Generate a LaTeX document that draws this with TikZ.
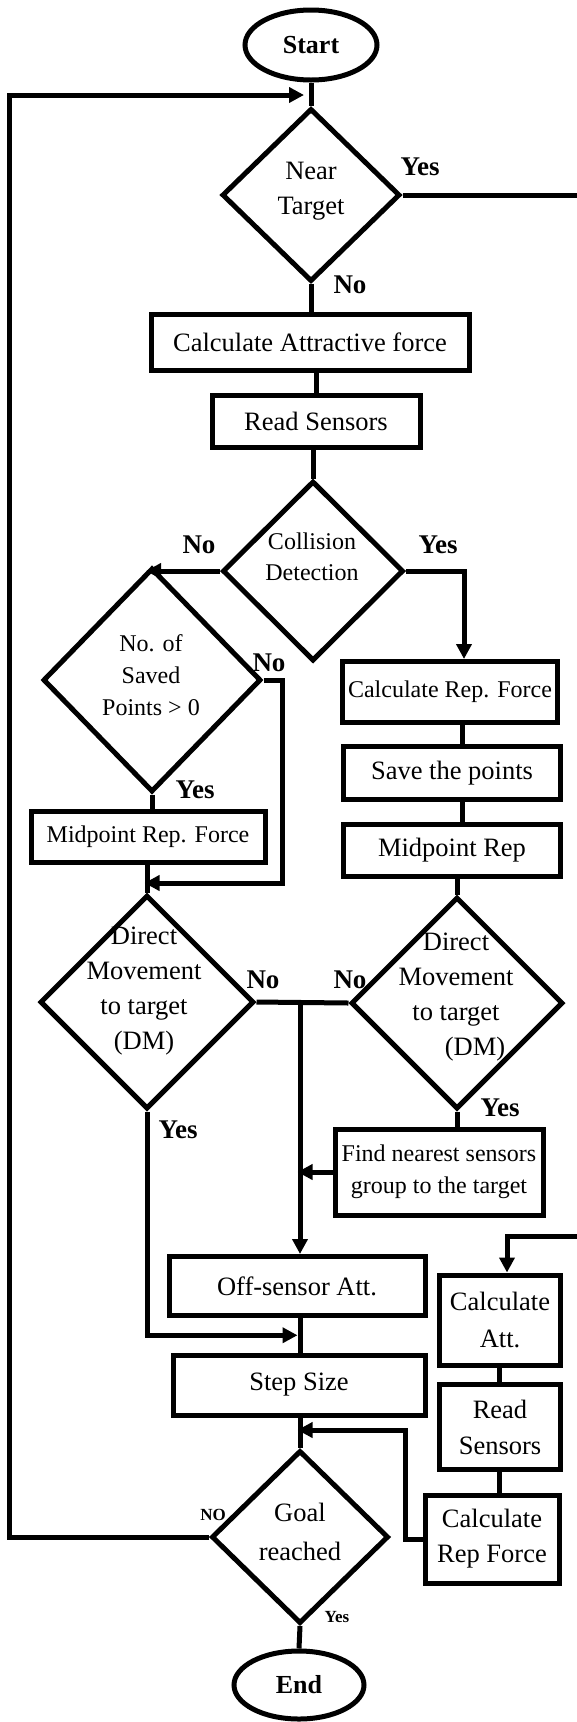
\documentclass[tikz,border=0pt]{standalone}
\usepackage{fontspec}
\setmainfont{Liberation Serif}
\usetikzlibrary{shapes.geometric,arrows.meta,calc}

\begin{document}
\begin{tikzpicture}[x=1pt,y=-1pt,
  line width=5pt,
  box/.style={draw, rectangle, inner sep=0pt, align=center, font=\fontsize{26.5}{35}\selectfont},
  dia/.style={draw, diamond, inner sep=0pt},
  term/.style={draw, ellipse, inner sep=0pt, font=\bfseries\fontsize{26}{30}\selectfont},
  dtxt/.style={align=center, inner sep=0pt, font=\fontsize{26.5}{35}\selectfont},
  lbl/.style={inner sep=0pt, font=\bfseries\fontsize{27}{30}\selectfont},
  slbl/.style={inner sep=0pt, font=\bfseries\fontsize{17}{20}\selectfont},
  arr/.style={-{Triangle[length=15pt,width=15pt]}},
]
\useasboundingbox (0,0) rectangle (577,1722);
\clip (0,0) rectangle (577,1722);

% ---- main column ----
\node[term, minimum width=132pt, minimum height=70pt] (start) at (311,45) {Start};
\node[dia, minimum width=178pt, minimum height=173pt] (near) at (311,195) {};
\node[dtxt] (nearT) at (311,191) {Near\\Target};
\node[box, minimum width=318pt, minimum height=56pt] (calcA) at (310,342) {Calculate Attractive force};
\node[box, minimum width=208pt, minimum height=52pt] (readS) at (316,421) {Read Sensors};
\node[dia, minimum width=181pt, minimum height=180pt] (coll) at (313,571) {};
\node[dtxt, font=\fontsize{24}{31}\selectfont] (collT) at (312,557) {Collision\\Detection};

% ---- left branch ----
\node[dia, minimum width=218pt, minimum height=224pt] (saved) at (152,680) {};
\node[dtxt, font=\fontsize{24}{32}\selectfont] (savedT) at (151,675) {No. of\\Saved\\Points > 0};
\node[box, font=\fontsize{24}{30}\selectfont, minimum width=234pt, minimum height=51pt] (midF) at (148,837) {Midpoint Rep. Force};
\node[dia, minimum width=214pt, minimum height=214pt] (dmL) at (147,1002) {};
\node[dtxt] (dmLT) at (144,991) {Direct\\Movement\\to target\\(DM)};

% ---- right branch ----
\node[box, font=\fontsize{24}{30}\selectfont, minimum width=215pt, minimum height=61pt] (calcR) at (450,692) {Calculate Rep. Force};
\node[box, minimum width=217pt, minimum height=53pt] (save) at (452,773) {Save the points};
\node[box, minimum width=217pt, minimum height=52pt] (midR) at (452,850) {Midpoint Rep};
\node[dia, minimum width=212pt, minimum height=212pt] (dmR) at (457,1003) {};
\node[dtxt] (dmRT) at (456,997) {Direct\\Movement\\to target\\\hspace*{38pt}(DM)};
\node[box, font=\fontsize{24}{32}\selectfont, minimum width=208pt, minimum height=86pt] (find) at (439,1172) {Find nearest sensors\\group to the target};

% ---- lower part ----
\node[box, minimum width=256pt, minimum height=59pt] (off) at (297,1286) {Off-sensor Att.};
\node[box, minimum width=252pt, minimum height=60pt] (step) at (299,1385) {Step Size};
\node[dia, minimum width=177pt, minimum height=173pt] (goal) at (300,1537) {};
\node[dtxt, font=\fontsize{26.5}{39}\selectfont] (goalT) at (300,1532) {Goal\\reached};
\node[term, minimum width=130pt, minimum height=68pt] (end) at (299,1685) {End};

\node[box, font=\fontsize{26.5}{37}\selectfont, minimum width=121pt, minimum height=90pt] (catt) at (500,1320) {Calculate\\Att.};
\node[box, font=\fontsize{26.5}{36}\selectfont, minimum width=121pt, minimum height=85pt] (rsens) at (500,1427) {Read\\Sensors};
\node[box, font=\fontsize{26.5}{35}\selectfont, minimum width=134pt, minimum height=88pt] (crep) at (492,1539) {Calculate\\Rep Force};

% ---- helper coordinates ----
\coordinate (loopTop) at (311,95);
\coordinate (loopL) at (9,95);
\coordinate (rTop) at (592,195);
\coordinate (rBot) at (592,1236);
\coordinate (cattIn) at ($(catt.north)+(7,0)$);
\coordinate (calcRin) at ($(calcR.north)+(14,0)$);
\coordinate (colR) at (462,0);
\coordinate (colM) at (300,0);
\coordinate (colRR) at (499,0);
\coordinate (svc) at (282,883);
\coordinate (fb) at (405,1430);
\coordinate (mid1) at ($(off.south)!0.5!(step.north)$);

% ---- connectors ----
\draw (start.south) -- (near.north);
\draw[arr, shorten >=7pt] (goal.west) -| (loopL) -- (loopTop);
\draw[arr] (near.east) -- (rTop) -- (rBot) -| (cattIn);
\draw (near.south) -- (near.south |- calcA.north);
\draw (readS.north) -- (readS.north |- calcA.south);
\draw (coll.north) -- (coll.north |- readS.south);
\draw[arr, shorten >=-6pt] (coll.west) -- (coll.west -| saved.north);
\draw[arr] (coll.east) -| (calcRin);
\draw (colR |- calcR.south) -- (colR |- save.north);
\draw (colR |- save.south) -- (colR |- midR.north);
\draw (dmR.north) -- (dmR.north |- midR.south);

\draw (saved.south) -- (saved.south |- midF.north);
\draw (dmL.north) -- (dmL.north |- midF.south);
\draw[arr, shorten >=-2.5pt] (saved.east) -| (svc) -- (svc -| dmL.north);

\draw (dmL.east) -- (dmR.west);
\draw[arr] (colM |- dmL.east) -- (colM |- off.north);
\draw[arr, shorten >=-2.5pt] (find.west) -- (find.west -| colM);
\draw (dmR.south) -- (dmR.south |- find.north);
\draw[arr, shorten >=2.5pt] (dmL.south) |- (colM |- mid1);
\draw (colM |- off.south) -- (colM |- step.north);
\draw (goal.north |- step.south) -- (goal.north);
\draw[arr, shorten >=-2.5pt] (crep.west) -| (fb) -- (fb -| goal.north);
\draw (colRR |- catt.south) -- (colRR |- rsens.north);
\draw (colRR |- rsens.south) -- (colRR |- crep.north);
\draw (goal.south) -- (end.north);

% ---- branch labels ----
\node[lbl] (yes1) at (420,167) {Yes};
\node[lbl] (no1) at (350,285) {No};
\node[lbl] (no2) at (199,545) {No};
\node[lbl] (yes2) at (438,545) {Yes};
\node[lbl] (no3) at (269,663) {No};
\node[lbl] (yes3) at (195,790) {Yes};
\node[lbl] (no4) at (263,980) {No};
\node[lbl] (no5) at (350,980) {No};
\node[lbl] (yes4) at (500,1108) {Yes};
\node[lbl] (yes5) at (178,1130) {Yes};
\node[slbl] (no6) at (213,1515) {NO};
\node[slbl] (yes6) at (337,1617) {Yes};
\end{tikzpicture}
\end{document}
